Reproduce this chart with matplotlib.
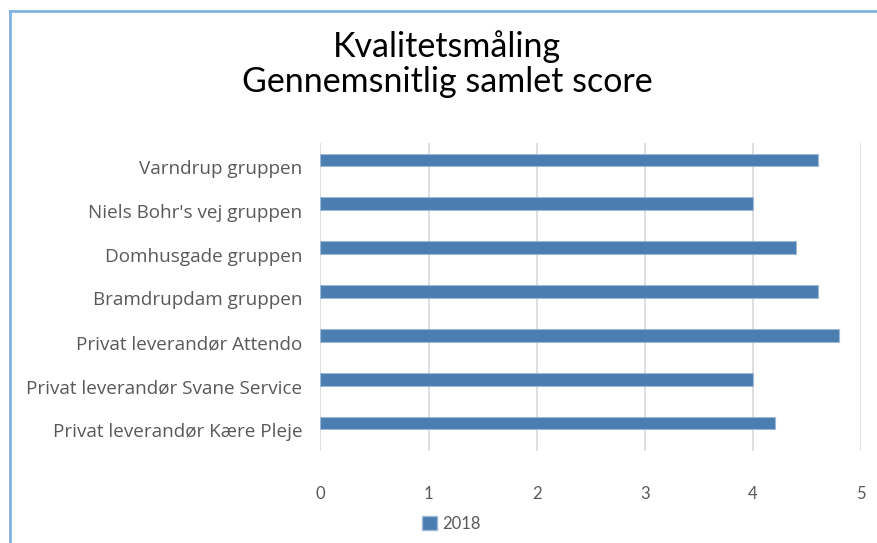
import matplotlib
matplotlib.use("Agg")
import matplotlib.pyplot as plt
from matplotlib.lines import Line2D
from matplotlib.patches import Patch
from matplotlib.transforms import ScaledTranslation

categories = [
    "Varndrup gruppen",
    "Niels Bohr's vej gruppen",
    "Domhusgade gruppen",
    "Bramdrupdam gruppen",
    "Privat leverandør Attendo",
    "Privat leverandør Svane Service",
    "Privat leverandør Kære Pleje",
]
values_2018 = [4.6, 4.0, 4.4, 4.6, 4.8, 4.0, 4.2]
x_ticks = [0, 1, 2, 3, 4, 5]
series_name = "2018"
title = "Kvalitetsmåling\nGennemsnitlig samlet score"

plt.rcParams['font.family'] = ['Lato', 'DejaVu Sans']

W, H = 878, 543
fig = plt.figure(figsize=(W / 100, H / 100), dpi=100)
fig.patch.set_facecolor("white")

ax = fig.add_axes([320.5 / W, 1 - 451 / H, (861 - 320.5) / W, (451 - 143) / H])
pos = list(range(len(categories)))
ax.barh(pos, values_2018, height=0.29, color="#4A7EB0", edgecolor="#9DB9D6",
        linewidth=0.8, zorder=3)
ax.set_ylim(6 + 28 / 43.8, -17 / 43.8)
ax.set_xlim(0, 5)
ax.set_xticks(x_ticks)
ax.set_xticklabels([str(t) for t in x_ticks])
ax.set_yticks(pos)
ax.set_yticklabels(categories, family=['Open Sans', 'DejaVu Sans'], fontsize=13.6)
ax.grid(axis="x", color="#D9D9D9", linewidth=1.2, zorder=0)
for s in ax.spines.values():
    s.set_visible(False)
ax.tick_params(axis="both", length=0, colors="#595959")
ax.tick_params(axis="x", labelsize=12, pad=25)
ax.tick_params(axis="y", pad=13)
shift = ScaledTranslation(0, -0.07, fig.dpi_scale_trans)
for lab in ax.get_yticklabels():
    lab.set_transform(lab.get_transform() + shift)

fig.text(447 / W, 1 - 64 / H, title, ha="center", va="center", fontsize=24.5,
         color="#000000", linespacing=1.12)

leg = fig.legend(handles=[Patch(facecolor="#4A7EB0", edgecolor="#9DB9D6")],
                 labels=[series_name], loc="center", bbox_to_anchor=(451 / W, 1 - 524 / H),
                 frameon=False, fontsize=12, handlelength=0.9, handleheight=0.9,
                 handletextpad=0.3)
for t in leg.get_texts():
    t.set_color("#595959")

fig.add_artist(Line2D([10 / W, 1], [1 - 10.5 / H, 1 - 10.5 / H], color="#7EB2E4",
                      linewidth=2, transform=fig.transFigure))
fig.add_artist(Line2D([10 / W, 10 / W], [0, 1 - 10.5 / H], color="#7EB2E4",
                      linewidth=2, transform=fig.transFigure))

fig.savefig("out.png", dpi=100)
